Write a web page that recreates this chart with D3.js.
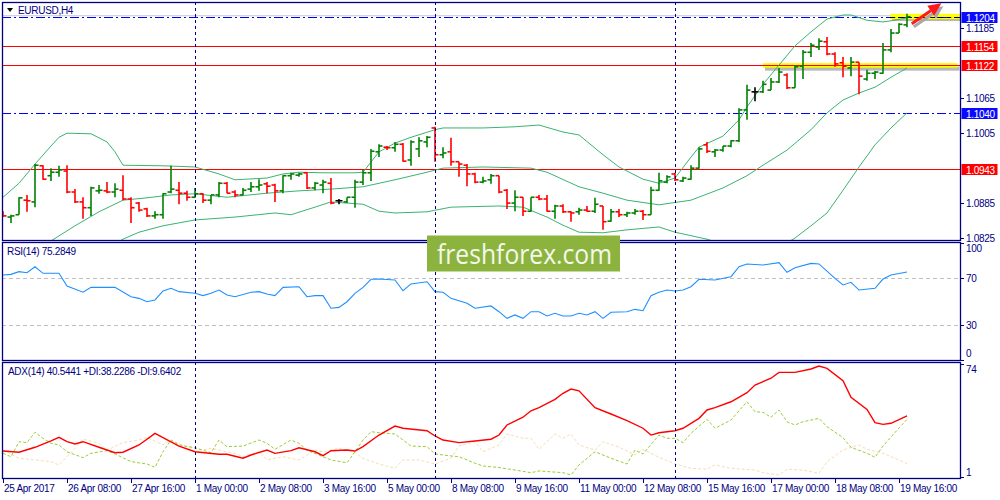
<!DOCTYPE html>
<html>
<head>
<meta charset="utf-8">
<script src="https://cdn.jsdelivr.net/npm/d3@7"></script>
<style>
  body { margin: 0; background: #fff; }
  svg text { font-family: "Liberation Sans", Arial, sans-serif; }
</style>
</head>
<body>
<div id="chart"></div>
<script>
// EURUSD H4 bars: [open, high, low, close]
const bars = [
[1.0870,1.0871,1.0861,1.0863],[1.0861,1.0865,1.0851,1.0863],[1.0865,1.0895,1.0865,1.0894],[1.0890,1.0899,1.0870,1.0889],
[1.0887,1.0952,1.0878,1.0950],[1.0949,1.0950,1.0925,1.0926],[1.0932,1.0945,1.0923,1.0938],[1.0938,1.0949,1.0930,1.0942],
[1.0940,1.0950,1.0902,1.0904],[1.0904,1.0909,1.0885,1.0887],[1.0887,1.0895,1.0858,1.0877],[1.0877,1.0913,1.0863,1.0911],
[1.0906,1.0916,1.0901,1.0907],[1.0906,1.0921,1.0902,1.0904],[1.0904,1.0919,1.0895,1.0909],[1.0907,1.0933,1.0890,1.0892],
[1.0892,1.0895,1.0851,1.0877],[1.0885,1.0887,1.0870,1.0873],[1.0875,1.0877,1.0861,1.0863],[1.0863,1.0871,1.0858,1.0865],
[1.0865,1.0902,1.0858,1.0901],[1.0904,1.0949,1.0902,1.0909],[1.0907,1.0921,1.0883,1.0902],[1.0902,1.0906,1.0889,1.0895],
[1.0895,1.0911,1.0894,1.0901],[1.0901,1.0902,1.0885,1.0890],[1.0890,1.0899,1.0883,1.0899],[1.0899,1.0921,1.0895,1.0919],
[1.0919,1.0921,1.0902,1.0902],[1.0904,1.0907,1.0895,1.0899],[1.0899,1.0911,1.0899,1.0907],[1.0909,1.0921,1.0904,1.0913],
[1.0913,1.0926,1.0906,1.0916],[1.0918,1.0921,1.0902,1.0914],[1.0916,1.0918,1.0887,1.0906],[1.0906,1.0933,1.0902,1.0932],
[1.0932,1.0937,1.0925,1.0935],[1.0933,1.0937,1.0930,1.0935],[1.0937,1.0938,1.0909,1.0911],[1.0911,1.0921,1.0907,1.0919],
[1.0916,1.0925,1.0902,1.0921],[1.0919,1.0928,1.0883,1.0885],[1.0889,1.0892,1.0883,1.0889],[1.0887,1.0895,1.0885,1.0895],
[1.0895,1.0925,1.0877,1.0921],[1.0921,1.0942,1.0916,1.0937],[1.0937,1.0978,1.0923,1.0974],[1.0973,1.0986,1.0964,1.0983],
[1.0981,1.0983,1.0976,1.0980],[1.0980,1.0990,1.0973,1.0986],[1.0986,1.0988,1.0956,1.0957],[1.0959,1.0993,1.0949,1.0990],
[1.0978,1.0998,1.0964,1.0992],[1.0990,1.1000,1.0981,1.0998],[1.1014,1.1016,1.0956,1.0968],[1.0968,1.0981,1.0962,1.0971],
[1.0973,1.0997,1.0949,1.0956],[1.0956,1.0956,1.0930,1.0952],[1.0950,1.0952,1.0914,1.0935],[1.0935,1.0937,1.0919,1.0921],
[1.0921,1.0930,1.0919,1.0923],[1.0925,1.0935,1.0918,1.0932],[1.0932,1.0932,1.0902,1.0904],[1.0907,1.0909,1.0875,1.0885],
[1.0885,1.0907,1.0871,1.0895],[1.0895,1.0895,1.0863,1.0871],[1.0871,1.0895,1.0870,1.0895],[1.0895,1.0899,1.0890,1.0892],
[1.0892,1.0899,1.0870,1.0871],[1.0871,1.0882,1.0858,1.0880],[1.0880,1.0883,1.0868,1.0870],[1.0870,1.0871,1.0853,1.0868],
[1.0870,1.0877,1.0865,1.0873],[1.0873,1.0880,1.0870,1.0871],[1.0871,1.0894,1.0868,1.0883],[1.0880,1.0880,1.0839,1.0853],
[1.0854,1.0875,1.0853,1.0870],[1.0870,1.0875,1.0861,1.0865],[1.0865,1.0870,1.0861,1.0868],[1.0868,1.0875,1.0865,1.0871],
[1.0871,1.0873,1.0856,1.0865],[1.0865,1.0913,1.0865,1.0907],[1.0907,1.0937,1.0906,1.0923],[1.0921,1.0933,1.0919,1.0930],
[1.0935,1.0937,1.0923,1.0925],[1.0923,1.0930,1.0921,1.0928],[1.0926,1.0950,1.0925,1.0945],[1.0945,1.0981,1.0944,1.0978],
[1.0985,1.0990,1.0971,1.0974],[1.0973,1.0978,1.0964,1.0976],[1.0976,1.0983,1.0973,1.0983],[1.0983,1.0993,1.0981,1.0992],
[1.0992,1.1048,1.0990,1.1045],[1.1045,1.1088,1.1028,1.1079],[1.1076,1.1084,1.1060,1.1076],[1.1076,1.1095,1.1074,1.1089],
[1.1079,1.1100,1.1079,1.1093],[1.1093,1.1117,1.1091,1.1110],[1.1105,1.1108,1.1081,1.1083],[1.1083,1.1122,1.1083,1.1119],
[1.1120,1.1148,1.1098,1.1144],[1.1144,1.1160,1.1136,1.1156],[1.1153,1.1168,1.1148,1.1163],[1.1162,1.1170,1.1139,1.1141],
[1.1141,1.1144,1.1119,1.1124],[1.1126,1.1136,1.1101,1.1120],[1.1117,1.1136,1.1103,1.1127],[1.1127,1.1127,1.1072,1.1103],
[1.1098,1.1114,1.1095,1.1108],[1.1108,1.1112,1.1098,1.1110],[1.1108,1.1160,1.1107,1.1148],[1.1148,1.1184,1.1144,1.1177],
[1.1177,1.1194,1.1177,1.1192],[1.1191,1.1210,1.1187,1.1205]
];

// Bollinger bands [bar, price]
const bbUpper = [[0,1.0895],[2,1.0919],[4,1.0952],[6,1.0983],[7,1.0998],[8,1.1005],[11,1.1004],[13,1.0990],[14,1.0973],[15,1.0950],
[20,1.0949],[24,1.0947],[27,1.0935],[29,1.0925],[33,1.0928],[35,1.0935],[37,1.0938],[40,1.0937],[44,1.0937],[45,1.0938],
[47,1.0973],[49,1.0988],[51,1.0998],[54,1.1011],[55,1.1014],[60,1.1014],[64,1.1016],[67,1.1019],[70,1.1007],[72,1.1002],
[75,1.0968],[77,1.0947],[80,1.0926],[82,1.0919],[84,1.0928],[86,1.0964],[87,1.0981],[90,1.1000],[92,1.1028],[93,1.1050],
[95,1.1089],[97,1.1122],[99,1.1155],[101,1.1179],[103,1.1201],[105,1.1208],[106,1.1208],[108,1.1199],[110,1.1196],[111,1.1198],[113,1.1203]];
const bbMiddle = [[0,1.0784],[3,1.0801],[6,1.0820],[9,1.0846],[12,1.0870],[15,1.0890],[18,1.0894],[21,1.0899],[24,1.0901],[28,1.0895],
[33,1.0902],[37,1.0906],[41,1.0909],[45,1.0913],[49,1.0925],[53,1.0938],[55,1.0945],[60,1.0947],[66,1.0945],[68,1.0938],
[72,1.0913],[75,1.0902],[78,1.0890],[82,1.0882],[86,1.0890],[90,1.0911],[93,1.0932],[95,1.0950],[98,1.0976],[101,1.1011],
[103,1.1040],[105,1.1062],[107,1.1074],[109,1.1084],[111,1.1101],[113,1.1117]];
const bbLower = [[0,1.0684],[6,1.0736],[10,1.0777],[13,1.0808],[15,1.0823],[17,1.0835],[20,1.0846],[24,1.0856],[29,1.0861],[34,1.0868],
[36,1.0865],[39,1.0878],[41,1.0887],[45,1.0883],[47,1.0871],[49,1.0868],[53,1.0870],[56,1.0878],[62,1.0880],[65,1.0878],
[68,1.0861],[70,1.0847],[72,1.0835],[75,1.0834],[78,1.0839],[82,1.0844],[84,1.0835],[88,1.0823],[92,1.0805],[95,1.0799],
[97,1.0808],[99,1.0825],[101,1.0846],[103,1.0868],[105,1.0907],[107,1.0947],[109,1.0985],[111,1.1014],[113,1.1040]];

// RSI(14) [bar, value]
const rsi = [[0,72.6],[1,73.2],[2,75.5],[3,74.6],[4,79.7],[5,74.1],[7,74.1],[8,63.2],[10,57.9],[11,62.1],[14,62.1],[16,54.1],[17,52.7],
[18,49.8],[19,51.3],[20,59.0],[21,61.3],[22,58.4],[24,57.0],[25,55.0],[26,57.0],[27,59.8],[28,55.6],[29,54.1],[31,57.9],[32,58.4],
[33,56.4],[34,55.0],[35,62.1],[37,62.6],[38,54.1],[39,55.0],[40,55.0],[41,44.2],[42,45.0],[43,49.8],[44,57.0],[45,62.1],[46,69.0],
[47,69.2],[49,68.4],[50,59.2],[51,65.0],[53,66.9],[54,58.4],[55,57.9],[56,52.7],[58,48.5],[59,44.2],[61,46.2],[62,41.3],[63,35.6],
[64,38.5],[65,35.6],[66,41.3],[67,41.3],[68,37.6],[69,39.9],[70,37.6],[71,37.6],[72,39.9],[73,38.5],[74,41.3],[75,35.6],[76,40.8],
[78,41.3],[79,43.3],[80,42.1],[81,55.0],[82,57.9],[83,59.8],[84,59.0],[85,59.8],[86,62.6],[87,69.0],[89,68.4],[91,71.2],[92,79.7],
[93,82.1],[95,81.2],[97,83.2],[98,75.0],[99,78.9],[101,82.6],[102,82.1],[104,69.8],[105,64.1],[106,66.4],[107,59.8],[109,61.3],
[110,69.2],[111,72.6],[113,75.28]];
const rsiLevels = [70, 30];
const rsiTicks = [100, 70, 30, 0];

// ADX(14), +DI, -DI [bar, value]
const adx = [[0,17.8],[2,17.0],[4,20.2],[6,24.3],[7,26.6],[8,23.8],[9,22.3],[10,23.8],[12,20.2],[14,16.7],[15,17.0],[17,21.7],
[19,29.2],[20,26.4],[22,21.0],[24,17.3],[27,15.7],[28,15.7],[30,13.1],[31,15.2],[33,18.4],[34,16.3],[36,18.0],[37,19.9],[39,17.3],
[40,14.8],[41,18.0],[43,18.4],[44,17.8],[45,20.6],[47,28.1],[49,33.9],[50,32.5],[53,30.9],[54,27.5],[55,24.9],[57,23.2],[59,24.3],
[61,25.4],[62,28.1],[63,34.6],[65,39.6],[66,43.8],[67,45.8],[69,51.2],[70,55.1],[71,57.8],[72,56.7],[74,45.8],[76,41.7],[78,37.4],
[80,32.5],[81,28.1],[82,29.6],[84,30.9],[85,32.5],[87,38.9],[88,44.3],[89,45.8],[91,49.6],[93,55.5],[94,60.4],[96,64.8],[97,68.6],
[99,68.6],[101,70.8],[102,72.7],[103,71.2],[105,63.2],[106,52.5],[108,44.7],[109,36.1],[110,35.0],[111,35.7],[113,40.54]];
const plusDI = [[0,16.3],[1,14.1],[2,23.8],[3,23.2],[4,29.9],[5,26.0],[6,22.8],[7,21.7],[8,17.3],[10,13.5],[11,16.3],[13,18.0],
[14,15.9],[16,10.9],[18,9.4],[19,7.3],[20,17.3],[21,24.9],[22,21.7],[24,19.9],[26,16.7],[27,24.9],[28,20.6],[30,21.0],[32,24.9],
[33,22.8],[34,18.9],[36,24.9],[37,22.8],[38,18.4],[40,14.1],[41,12.0],[43,10.2],[44,17.3],[45,24.9],[46,30.3],[47,29.6],[49,28.8],
[50,24.9],[51,21.0],[53,20.6],[54,15.9],[56,14.6],[57,14.1],[59,9.9],[60,8.1],[62,7.1],[64,5.5],[66,3.8],[67,4.9],[70,3.8],[71,2.3],
[72,8.8],[74,17.3],[76,13.1],[78,9.4],[79,18.4],[80,15.9],[82,28.1],[83,26.0],[84,26.0],[85,23.2],[86,29.2],[88,38.3],[89,32.5],
[91,37.8],[93,49.6],[94,43.2],[95,42.8],[96,39.6],[97,44.3],[98,36.7],[99,34.6],[100,36.7],[102,38.9],[103,33.5],[105,26.4],
[106,20.2],[108,16.3],[109,13.7],[110,21.0],[111,26.8],[112,32.7],[113,38.23]];
const minusDI = [[0,18.4],[2,13.1],[4,12.0],[6,10.9],[7,8.8],[9,19.5],[10,25.5],[12,22.8],[13,18.4],[15,23.2],[17,24.9],[18,26.6],
[20,21.7],[21,24.9],[23,20.2],[25,18.4],[26,19.5],[29,16.3],[30,14.1],[32,17.3],[33,12.0],[35,14.1],[37,12.0],[39,18.4],[40,17.3],
[42,19.5],[44,16.7],[45,13.1],[47,9.4],[49,6.6],[50,12.0],[52,12.0],[54,9.4],[56,13.1],[57,21.0],[59,23.8],[60,17.3],[62,21.7],
[63,28.8],[65,26.0],[66,26.0],[67,18.9],[69,28.8],[70,26.0],[71,28.8],[72,21.7],[74,18.4],[75,23.8],[77,20.2],[79,15.2],[80,18.9],
[82,13.7],[84,9.4],[86,6.6],[88,6.0],[89,8.8],[91,6.6],[94,5.5],[95,3.8],[97,2.3],[98,6.0],[100,5.5],[102,3.4],[103,10.9],[105,18.4],
[106,20.2],[107,21.7],[108,18.9],[110,16.3],[112,12.0],[113,9.64]];
const adxTicks = [74, 1];
const adxLast = [40.5441, 38.2286, 9.6402];
const rsiLast = 75.2849;

// levels and axis
const supportLevels = [1.1154, 1.1122, 1.0943];   // red solid
const pivotLevels = [1.1204, 1.1040];              // blue dash-dot
const priceTicks = [1.1185, 1.1065, 1.1005, 1.0885, 1.0825];
const weekStarts = [24, 54, 84];
const timeLabels = ["25 Apr 2017","26 Apr 08:00","27 Apr 16:00","1 May 00:00","2 May 08:00","3 May 16:00","5 May 00:00",
  "8 May 08:00","9 May 16:00","11 May 00:00","12 May 08:00","15 May 16:00","17 May 00:00","18 May 08:00","19 May 16:00"];

// annotations (bar, price)
const zoneLow = {from: 95, to: 119.3, price: 1.1121};
const zoneTop = {from: 110.9, to: 119.6, hi: 1.1210, lo: 1.1201, price: 1.1204};
const arrowPts = [[113.6, 1.1193], [117.3, 1.1228]];

const W = 1000, H = 500;
const left = 2, axisX = 960;
const main = {top: 2, bottom: 240}, rsiP = {top: 242, bottom: 360}, adxP = {top: 362, bottom: 478};
const navy = "#000080";

const svg = d3.select("#chart").append("svg").attr("width", W).attr("height", H);

const x = d3.scaleLinear().domain([0, 119.625]).range([3, axisX]);
const y = d3.scaleLinear().domain([1.08216, 1.12303]).range([main.bottom, main.top]);
const yR = d3.scaleLinear().domain([0, 100]).range([360, 243]);
const yA = d3.scaleLinear().domain([1, 74]).range([477, 364]);

const defs = svg.append("defs");
[["clipMain", main], ["clipRsi", rsiP], ["clipAdx", adxP]].forEach(function(c){
  defs.append("clipPath").attr("id", c[0]).append("rect")
    .attr("x", left).attr("y", c[1].top).attr("width", axisX - left).attr("height", c[1].bottom - c[1].top);
});

// ---------- main panel ----------
const gMain = svg.append("g").attr("clip-path", "url(#clipMain)");

// bid line
gMain.append("line").attr("x1", left).attr("x2", axisX)
  .attr("y1", y(bars[bars.length-1][3]) - 1).attr("y2", y(bars[bars.length-1][3]) - 1)
  .attr("stroke", "#c8c8c8");

// yellow zone under lower level
gMain.append("rect").attr("x", x(zoneLow.from) + 2).attr("y", y(zoneLow.price) + 1)
  .attr("width", x(zoneLow.to) - x(zoneLow.from)).attr("height", 4).attr("fill", "#b8b8b8");
gMain.append("rect").attr("x", x(zoneLow.from)).attr("y", y(zoneLow.price) - 2.5)
  .attr("width", x(zoneLow.to) - x(zoneLow.from)).attr("height", 4.5).attr("fill", "#ffff00");

gMain.append("rect").attr("x", x(zoneTop.from) + 2).attr("y", y(zoneTop.hi) + 2)
  .attr("width", x(zoneTop.to) - x(zoneTop.from)).attr("height", y(zoneTop.lo) - y(zoneTop.hi)).attr("fill", "#b8b8b8");
gMain.append("rect").attr("x", x(zoneTop.from)).attr("y", y(zoneTop.hi))
  .attr("width", x(zoneTop.to) - x(zoneTop.from)).attr("height", y(zoneTop.lo) - y(zoneTop.hi)).attr("fill", "#ffff00");

// horizontal levels
gMain.selectAll(".sup").data(supportLevels).enter().append("line")
  .attr("x1", left).attr("x2", axisX)
  .attr("y1", function(d){ return Math.round(y(d)) + 0.5; }).attr("y2", function(d){ return Math.round(y(d)) + 0.5; })
  .attr("stroke", "#ff0000").attr("stroke-width", 1);
gMain.selectAll(".piv").data(pivotLevels).enter().append("line")
  .attr("x1", left).attr("x2", axisX)
  .attr("y1", function(d){ return Math.round(y(d)) + 0.5; }).attr("y2", function(d){ return Math.round(y(d)) + 0.5; })
  .attr("stroke", "#0000ff").attr("stroke-width", 1.2).attr("stroke-dasharray", "9,3,2,3");
gMain.append("line").attr("x1", x(zoneTop.from)).attr("x2", axisX)
  .attr("y1", Math.round(y(zoneTop.price)) + 0.5).attr("y2", Math.round(y(zoneTop.price)) + 0.5)
  .attr("stroke", "#000").attr("stroke-dasharray", "5,3");

// Bollinger bands
const line = d3.line().x(function(d){ return x(d[0]); });
[bbUpper, bbMiddle, bbLower].forEach(function(band){
  gMain.append("path").datum(band)
    .attr("d", line.y(function(d){ return y(d[1]); }))
    .attr("fill", "none").attr("stroke", "#3cb371").attr("stroke-width", 1);
});

// OHLC bars
const barG = gMain.selectAll(".bar").data(bars).enter().append("g")
  .attr("stroke", function(d){ return d[3] > d[0] ? "#008000" : (d[3] < d[0] ? "#ff0000" : "#000"); })
  .attr("stroke-width", 1.6);
barG.append("line")
  .attr("x1", function(d, i){ return x(i); }).attr("x2", function(d, i){ return x(i); })
  .attr("y1", function(d){ return y(d[1]); }).attr("y2", function(d){ return y(d[2]); });
barG.append("line")
  .attr("x1", function(d, i){ return x(i) - 3.5; }).attr("x2", function(d, i){ return x(i); })
  .attr("y1", function(d){ return y(d[0]); }).attr("y2", function(d){ return y(d[0]); });
barG.append("line")
  .attr("x1", function(d, i){ return x(i); }).attr("x2", function(d, i){ return x(i) + 3.5; })
  .attr("y1", function(d){ return y(d[3]); }).attr("y2", function(d){ return y(d[3]); });

// red arrow
function drawArrow(g, color, dx, dy){
  const x0 = x(arrowPts[0][0]) + dx, y0 = y(arrowPts[0][1]) + dy;
  const x1 = x(arrowPts[1][0]) + dx, y1 = y(arrowPts[1][1]) + dy;
  const a = Math.atan2(y1 - y0, x1 - x0);
  const hl = 13, hw = 6;
  const bx = x1 - hl * Math.cos(a), by = y1 - hl * Math.sin(a);
  g.append("line").attr("x1", x0).attr("y1", y0).attr("x2", bx).attr("y2", by)
    .attr("stroke", color).attr("stroke-width", 3);
  g.append("path").attr("fill", color)
    .attr("d", "M" + x1 + "," + y1 + "L" + (bx + hw*Math.sin(a)) + "," + (by - hw*Math.cos(a)) +
      "L" + (bx - hw*Math.sin(a)) + "," + (by + hw*Math.cos(a)) + "Z");
}
const arrowG = svg.append("g");
drawArrow(arrowG, "#a8a8a8", 2, 3);
drawArrow(arrowG, "#ff1a1a", 0, 0);

// ---------- RSI panel ----------
const gRsi = svg.append("g").attr("clip-path", "url(#clipRsi)");
gRsi.selectAll(".lvl").data(rsiLevels).enter().append("line")
  .attr("x1", left).attr("x2", axisX)
  .attr("y1", function(d){ return Math.round(yR(d)) + 0.5; }).attr("y2", function(d){ return Math.round(yR(d)) + 0.5; })
  .attr("stroke", "#c0c0c0").attr("stroke-dasharray", "4,3");
gRsi.append("path").datum(rsi)
  .attr("d", d3.line().x(function(d){ return x(d[0]); }).y(function(d){ return yR(d[1]); }))
  .attr("fill", "none").attr("stroke", "#1e90ff").attr("stroke-width", 1.1);

// ---------- ADX panel ----------
const gAdx = svg.append("g").attr("clip-path", "url(#clipAdx)");
const lineA = d3.line().x(function(d){ return x(d[0]); }).y(function(d){ return yA(d[1]); });
gAdx.append("path").datum(minusDI).attr("d", lineA)
  .attr("fill", "none").attr("stroke", "#f5deb3").attr("stroke-width", 1).attr("stroke-dasharray", "3,2");
gAdx.append("path").datum(plusDI).attr("d", lineA)
  .attr("fill", "none").attr("stroke", "#9acd32").attr("stroke-width", 1).attr("stroke-dasharray", "3,2");
gAdx.append("path").datum(adx).attr("d", lineA)
  .attr("fill", "none").attr("stroke", "#ff0000").attr("stroke-width", 1.4);

// ---------- week separators ----------
[main, rsiP, adxP].forEach(function(p){
  svg.selectAll(null).data(weekStarts).enter().append("line")
    .attr("x1", function(d){ return Math.round(x(d)) + 0.5; }).attr("x2", function(d){ return Math.round(x(d)) + 0.5; })
    .attr("y1", p.top).attr("y2", p.bottom)
    .attr("stroke", navy).attr("stroke-dasharray", "3,3");
});

// ---------- frames ----------
[main, rsiP, adxP].forEach(function(p){
  svg.append("rect").attr("x", left + 0.5).attr("y", p.top + 0.5)
    .attr("width", axisX - left).attr("height", p.bottom - p.top)
    .attr("fill", "none").attr("stroke", navy).attr("stroke-width", 1.3);
});

// ---------- logo ----------
svg.append("rect").attr("x", 427).attr("y", 235.5).attr("width", 193).attr("height", 36).attr("fill", "#8db33f");
svg.append("text").attr("x", 437).attr("y", 263.5).attr("font-size", 27)
  .style("font-family", "'Open Sans', 'Noto Sans', sans-serif")
  .attr("textLength", 175).attr("lengthAdjust", "spacingAndGlyphs")
  .attr("fill", "#f4f8ec").text("freshforex.com");

// ---------- axes ----------
const txt = function(sel){ return sel.attr("font-size", 10).attr("letter-spacing", "-0.3").attr("fill", navy); };

// price ticks
svg.selectAll(".pt").data(priceTicks).enter().append("line")
  .attr("x1", axisX).attr("x2", axisX + 4)
  .attr("y1", function(d){ return Math.round(y(d)) + 0.5; }).attr("y2", function(d){ return Math.round(y(d)) + 0.5; })
  .attr("stroke", navy);
svg.selectAll(".pl").data(priceTicks).enter().append("text").call(txt)
  .attr("x", 966).attr("y", function(d){ return y(d) + 4; }).text(function(d){ return d.toFixed(4); });

// level labels
function levelLabel(p, color){
  svg.append("rect").attr("x", 961.5).attr("y", Math.round(y(p)) - 5).attr("width", 36).attr("height", 11).attr("fill", color);
  svg.append("text").call(txt).attr("fill", "#fff").attr("x", 966).attr("y", Math.round(y(p)) + 4.5).text(p.toFixed(4));
}
pivotLevels.forEach(function(p){ levelLabel(p, "#0a0aff"); });
supportLevels.forEach(function(p){ levelLabel(p, "#ff0000"); });

// RSI ticks
svg.selectAll(".rt").data(rsiTicks).enter().append("line")
  .attr("x1", axisX).attr("x2", axisX + 4)
  .attr("y1", function(d){ return Math.round(yR(d)) + 0.5; }).attr("y2", function(d){ return Math.round(yR(d)) + 0.5; })
  .attr("stroke", navy);
svg.selectAll(".rl").data(rsiTicks).enter().append("text").call(txt)
  .attr("x", 966)
  .attr("y", function(d){ return yR(d) + (d === 100 ? 9 : d === 0 ? -3 : 4); })
  .text(function(d){ return d; });

// ADX ticks
svg.selectAll(".at").data(adxTicks).enter().append("line")
  .attr("x1", axisX).attr("x2", axisX + 4)
  .attr("y1", function(d){ return Math.round(yA(d)) + 0.5; }).attr("y2", function(d){ return Math.round(yA(d)) + 0.5; })
  .attr("stroke", navy);
svg.selectAll(".al").data(adxTicks).enter().append("text").call(txt)
  .attr("x", 966)
  .attr("y", function(d){ return yA(d) + (d === 74 ? 9 : -1); })
  .text(function(d){ return d; });

// time axis
svg.selectAll(".tt").data(timeLabels).enter().append("line")
  .attr("x1", function(d, i){ return Math.round(x(i * 8)) + 0.5; }).attr("x2", function(d, i){ return Math.round(x(i * 8)) + 0.5; })
  .attr("y1", adxP.bottom).attr("y2", adxP.bottom + 5).attr("stroke", navy);
svg.selectAll(".tl").data(timeLabels).enter().append("text").call(txt)
  .attr("x", function(d, i){ return x(i * 8) + 1; }).attr("y", 492)
  .text(function(d){ return d; });

// panel captions
svg.append("path").attr("d", "M7,8L13,8L10,12Z").attr("fill", "#000");
svg.append("text").call(txt).attr("x", 18).attr("y", 14).text("EURUSD,H4");
svg.append("text").call(txt).attr("x", 7).attr("y", 255).text("RSI(14) " + rsiLast.toFixed(4));
svg.append("text").call(txt).attr("x", 8).attr("y", 375)
  .text("ADX(14) " + adxLast[0].toFixed(4) + " +DI:" + adxLast[1].toFixed(4) + " -DI:" + adxLast[2].toFixed(4));
</script>
</body>
</html>
